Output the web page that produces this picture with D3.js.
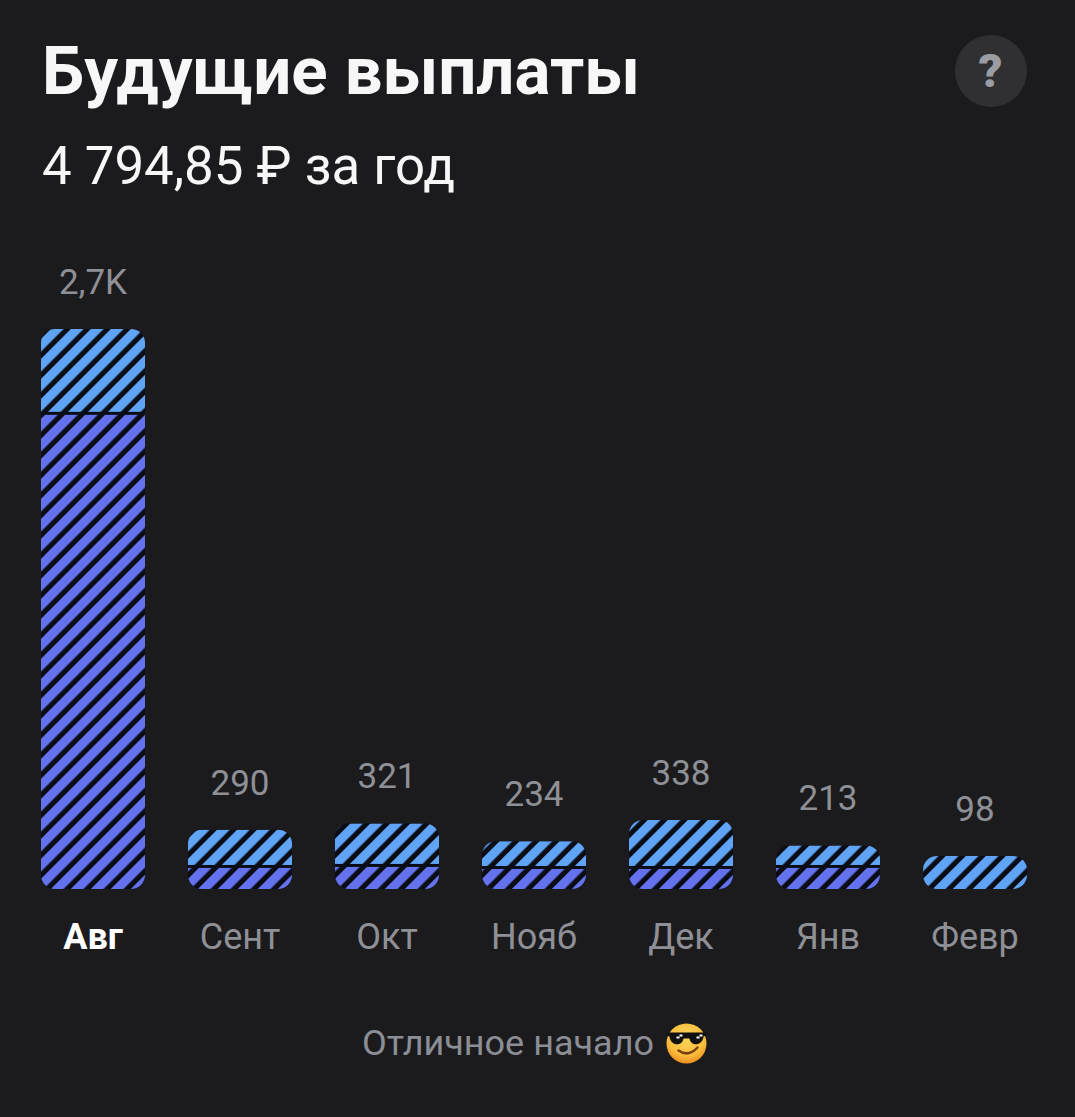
<!DOCTYPE html>
<html><head><meta charset="utf-8">
<script src="https://cdn.jsdelivr.net/npm/d3@7/dist/d3.min.js"></script>
<style>html,body{margin:0;padding:0;background:#1b1b1e;overflow:hidden}svg{display:block}text{font-family:Roboto,Inter,sans-serif}</style>
</head><body><svg id="c" width="1075" height="1117"></svg>
<script>
const months = ["Авг","Сент","Окт","Нояб","Дек","Янв","Февр"];
const labels = ["2,7K","290","321","234","338","213","98"];
const lower = [2320,103,108,98,98,103,0];
const upper = [420,187,213,136,240,110,98];
const title = "Будущие выплаты";
const subtitle = "4 794,85 ₽ за год";
const note = "Отличное начало";

const svg = d3.select("#c");
const baseline = 889, fullHeight = 560, minHeight = 33, gapPx = 3;
const x = d3.scaleBand().domain(months).range([41,1027]).paddingInner(43/147);
const y = d3.scaleLinear().domain([0,2740]).range([0,fullHeight]);

const defs = svg.append("defs");
[["pBlue","#60a4f5"],["pIndigo","#6472ee"]].forEach(([id,col])=>{
  const p = defs.append("pattern").attr("id",id).attr("patternUnits","userSpaceOnUse")
    .attr("width",14.14).attr("height",14.14).attr("patternTransform","rotate(45) translate(6.9,0)");
  p.append("rect").attr("width",14.14).attr("height",14.14).attr("fill","#0a0d15");
  p.append("rect").attr("width",9).attr("height",14.14).attr("fill",col);
});

svg.append("text").attr("x",42).attr("y",94).attr("font-size",67).attr("font-weight",700).attr("fill","#f7f7f8")
  .attr("textLength",598).attr("lengthAdjust","spacingAndGlyphs").text(title);
svg.append("text").attr("x",42).attr("y",184).attr("font-size",53).attr("font-weight",400).attr("fill","#f7f7f8")
  .attr("textLength",413).attr("lengthAdjust","spacingAndGlyphs").text(subtitle);

svg.append("circle").attr("cx",991).attr("cy",71).attr("r",36).attr("fill","#303033");
svg.append("text").attr("x",990.5).attr("y",87).attr("text-anchor","middle").attr("font-size",47).attr("font-weight",900).attr("fill","#9b9da3").text("?");

months.forEach((m,i)=>{
  const w = x.bandwidth();
  const total = lower[i]+upper[i];
  const h = Math.max(y(total),minHeight);
  const g = svg.append("g").attr("transform",`translate(${x(m)},${baseline})`);
  const cid = "clip"+i;
  defs.append("clipPath").attr("id",cid).append("rect").attr("y",-h).attr("width",w).attr("height",h).attr("rx",14);
  const b = g.append("g").attr("clip-path",`url(#${cid})`);
  b.append("rect").attr("y",-h).attr("width",w).attr("height",h).attr("fill","#0a0d15");
  const lh = y(lower[i]);
  if(lower[i]>0) b.append("rect").attr("y",-lh).attr("width",w).attr("height",lh).attr("fill","url(#pIndigo)");
  const uh = h-lh-(lower[i]>0?gapPx:0);
  b.append("rect").attr("y",-h).attr("width",w).attr("height",uh).attr("fill","url(#pBlue)");
  g.append("text").attr("x",w/2).attr("y",-h-35).attr("text-anchor","middle").attr("font-size",35).attr("fill","#8f9096").text(labels[i]);
});

const axis = d3.axisBottom(x).tickSize(0).tickPadding(0);
const ag = svg.append("g").attr("transform",`translate(0,${baseline})`).call(axis);
ag.select(".domain").remove();
ag.selectAll("text").attr("y",60).attr("dy",0).attr("font-size",36).attr("font-family",'Roboto,Inter,sans-serif')
  .attr("fill",(d,i)=>i==0?"#fff":"#8f9096").attr("font-weight",(d,i)=>i==0?700:400);

svg.append("text").attr("x",362).attr("y",1055).attr("font-size",35).attr("fill","#8b8e95")
  .attr("textLength",292).attr("lengthAdjust","spacingAndGlyphs").text(note);

// emoji
const e = svg.append("g").attr("transform","translate(686.5,1043.5)");
const grad = defs.append("radialGradient").attr("id","eg").attr("cx","50%").attr("cy","35%").attr("r","65%");
grad.append("stop").attr("offset","0%").attr("stop-color","#fdd65c");
grad.append("stop").attr("offset","70%").attr("stop-color","#fbbd3c");
grad.append("stop").attr("offset","100%").attr("stop-color","#ee8f22");
e.append("circle").attr("r",20).attr("fill","url(#eg)");
e.append("path").attr("d","M-20,-11 H20 V-8 L17,-7 C16,3 4,3 3,-5 H-3 C-4,3 -16,3 -17,-7 L-20,-8 Z").attr("fill","#111");
[[-10,-7],[-7,-9],[10,-7],[13,-9]].forEach(([a,b])=>e.append("rect").attr("x",a).attr("y",b).attr("width",3).attr("height",2).attr("fill","#fff"));
e.append("path").attr("d","M-8,7 Q2,14 11,4").attr("fill","none").attr("stroke","#7a3f12").attr("stroke-width",2.5).attr("stroke-linecap","round");
</script></body></html>
